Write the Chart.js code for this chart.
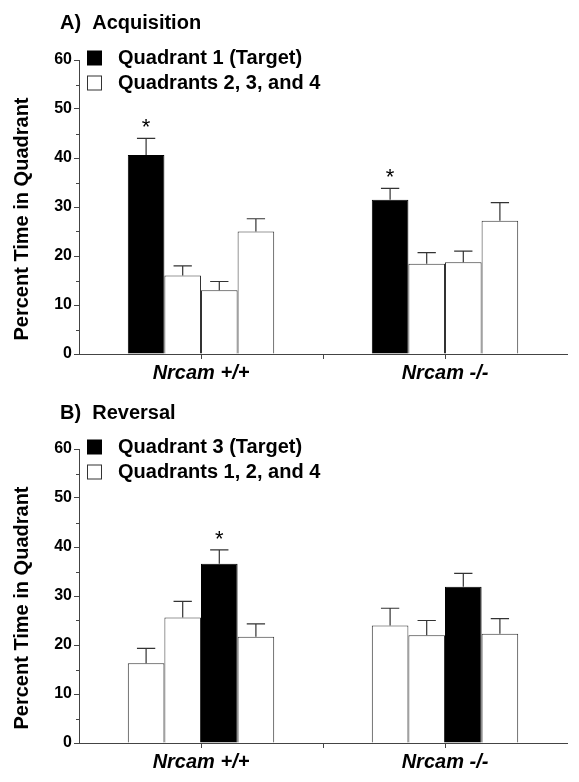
<!DOCTYPE html>
<html>
<head>
<meta charset="utf-8">
<script src="https://cdn.jsdelivr.net/npm/chart.js@4.4.0/dist/chart.umd.min.js"></script>
<style>
  html, body { margin: 0; padding: 0; background: #fff; }
  canvas { display: block; }
</style>
</head>
<body>
<canvas id="acqChart" width="579" height="390"></canvas>
<canvas id="revChart" width="579" height="392"></canvas>
<script>
// shared
var groups = ['Nrcam +/+', 'Nrcam -/-'];
var yTickValues = [0, 10, 20, 30, 40, 50, 60];
var yMinorValues = [5, 15, 25, 35, 45, 55];

// A) Acquisition - bars in order left to right in each group
var acqTitle = 'A)  Acquisition';
var acqLegend = ['Quadrant 1 (Target)', 'Quadrants 2, 3, and 4'];
var acqBar1 = [40.6, 31.5];
var acqBar2 = [16.0, 18.4];
var acqBar3 = [13.0, 18.7];
var acqBar4 = [25.0, 27.2];
var acqSem1 = [3.4, 2.3];
var acqSem2 = [2.0, 2.3];
var acqSem3 = [1.8, 2.3];
var acqSem4 = [2.6, 3.7];
var acqTarget = 0;
var acqSig = [true, true];

// B) Reversal
var revTitle = 'B)  Reversal';
var revLegend = ['Quadrant 3 (Target)', 'Quadrants 1, 2, and 4'];
var revBar1 = [16.3, 24.0];
var revBar2 = [25.6, 22.0];
var revBar3 = [36.6, 31.9];
var revBar4 = [21.7, 22.3];
var revSem1 = [3.0, 3.5];
var revSem2 = [3.3, 3.0];
var revSem3 = [2.8, 2.7];
var revSem4 = [2.6, 3.1];
var revTarget = 2;
var revSig = [true, false];

var FONT = "'Liberation Sans', Arial, sans-serif";
var AXIS = '#444';

// draws error bars, asterisks, extra ticks, title, legend and y title
var panelPlugin = {
    id: 'panelPlugin',
    afterDatasetsDraw: function(chart) {
        var c = chart.ctx;
        var p = chart.options.plugins.panelPlugin;
        var y = chart.scales.y;
        c.save();
        chart.data.datasets.forEach(function(ds, di) {
            var meta = chart.getDatasetMeta(di);
            meta.data.forEach(function(bar, i) {
                var top = y.getPixelForValue(ds.data[i] + ds.sem[i]);
                var half = bar.width / 4;
                c.strokeStyle = '#333';
                c.lineWidth = 1.2;
                c.beginPath();
                c.moveTo(bar.x, bar.y);
                c.lineTo(bar.x, top);
                c.moveTo(bar.x - half, top);
                c.lineTo(bar.x + half, top);
                c.stroke();
                if (di === p.target && p.sig[i]) {
                    c.fillStyle = '#000';
                    c.font = '22px ' + FONT;
                    c.textAlign = 'center';
                    c.textBaseline = 'alphabetic';
                    c.fillText('*', bar.x, top - 4);
                }
            });
        });
        c.restore();
    },
    afterDraw: function(chart) {
        var c = chart.ctx;
        var p = chart.options.plugins.panelPlugin;
        var area = chart.chartArea;
        var x = chart.scales.x;
        var y = chart.scales.y;
        c.save();
        c.strokeStyle = AXIS;
        c.lineWidth = 1;
        // minor y ticks
        c.beginPath();
        yMinorValues.forEach(function(v) {
            var py = Math.round(y.getPixelForValue(v)) + 0.5;
            c.moveTo(area.left - 3, py);
            c.lineTo(area.left, py);
        });
        // tick between the two groups
        var mid = Math.round((x.getPixelForValue(0) + x.getPixelForValue(1)) / 2) + 0.5;
        c.moveTo(mid, area.bottom);
        c.lineTo(mid, area.bottom + 5);
        c.stroke();

        c.fillStyle = '#000';
        c.textAlign = 'left';
        c.textBaseline = 'middle';
        c.font = 'bold 20px ' + FONT;
        c.fillText(p.title, 60, 23);

        // legend
        var rows = [area.top - 2, area.top + 23];
        c.fillStyle = '#000';
        c.fillRect(87, rows[0] - 7.5, 15, 15);
        c.fillStyle = '#fff';
        c.fillRect(87.5, rows[1] - 7, 14, 14);
        c.strokeStyle = '#333';
        c.strokeRect(87.5, rows[1] - 7, 14, 14);
        c.fillStyle = '#000';
        c.fillText(p.legend[0], 118, rows[0]);
        c.fillText(p.legend[1], 118, rows[1]);

        // y title
        c.translate(22, (area.top + area.bottom) / 2 + 12);
        c.rotate(-Math.PI / 2);
        c.textAlign = 'center';
        c.fillText('Percent Time in Quadrant', 0, 0);
        c.restore();
    }
};

function makeDatasets(bars, sems, target) {
    return bars.map(function(vals, i) {
        var dark = i === target;
        return {
            label: 'Bar ' + (i + 1),
            data: vals,
            sem: sems[i],
            backgroundColor: dark ? '#000' : '#fff',
            borderColor: dark ? '#000' : '#333',
            borderWidth: 1,
            categoryPercentage: 0.6,
            barPercentage: 1.0
        };
    });
}

function renderPanel(id, bars, sems, target, sig, title, legend, padTop, padBottom) {
    var ctx = document.getElementById(id).getContext('2d');
    return new Chart(ctx, {
        type: 'bar',
        data: {
            labels: groups,
            datasets: makeDatasets(bars, sems, target)
        },
        options: {
            responsive: false,
            animation: false,
            layout: { padding: { top: padTop, bottom: padBottom, left: 0, right: 12 } },
            plugins: {
                legend: { display: false },
                tooltip: { enabled: false },
                panelPlugin: { title: title, legend: legend, target: target, sig: sig }
            },
            scales: {
                x: {
                    offset: true,
                    grid: { offset: false, drawOnChartArea: false, tickLength: 5, color: AXIS },
                    border: { color: AXIS, width: 1 },
                    ticks: {
                        color: '#000',
                        padding: 2,
                        font: { family: FONT, size: 20, weight: 'bold', style: 'italic' }
                    },
                    afterFit: function(scale) { scale.height = 36; }
                },
                y: {
                    min: 0,
                    max: 60,
                    afterBuildTicks: function(scale) {
                        scale.ticks = yTickValues.map(function(v) { return { value: v }; });
                    },
                    grid: { drawOnChartArea: false, tickLength: 5, color: AXIS },
                    border: { color: AXIS, width: 1 },
                    ticks: {
                        color: '#000',
                        padding: 2,
                        font: { family: FONT, size: 16, weight: 'bold' }
                    },
                    afterFit: function(scale) { scale.width = 79; }
                }
            }
        },
        plugins: [panelPlugin]
    });
}

renderPanel('acqChart',
    [acqBar1, acqBar2, acqBar3, acqBar4],
    [acqSem1, acqSem2, acqSem3, acqSem4],
    acqTarget, acqSig, acqTitle, acqLegend, 60, 0);

renderPanel('revChart',
    [revBar1, revBar2, revBar3, revBar4],
    [revSem1, revSem2, revSem3, revSem4],
    revTarget, revSig, revTitle, revLegend, 59, 3);
</script>
</body>
</html>
